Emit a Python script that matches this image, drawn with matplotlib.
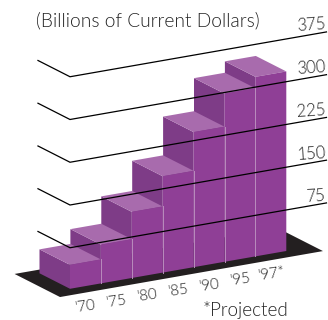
import matplotlib
matplotlib.use("Agg")
import matplotlib.pyplot as plt
from matplotlib.patches import Polygon

plt.rcParams["font.family"] = ["Lato", "DejaVu Sans"]

years = ["'70", "'75", "'80", "'85", "'90", "'95", "'97*"]
spending = [45, 71, 119, 172, 240, 298, 318]
grid_levels = [75, 150, 225, 300, 375]

# oblique projection, in pixels of the 328x320 canvas
ORIGIN = (70.0, 290.5)
COL_VEC = (30.9, -5.4)
DEPTH_VEC = (-30.5, -15.5)
PX_PER_UNIT = 0.57
FLOOR = 3

FRONT = "#8f3f96"
TOP = "#a86bad"
SIDE = "#7e3c87"
EDGE = "#b98cbd"
TEXT = "#222222"


def project(col, depth, value):
    x = ORIGIN[0] + col * COL_VEC[0] + depth * DEPTH_VEC[0]
    y = ORIGIN[1] + col * COL_VEC[1] + depth * DEPTH_VEC[1] - value * PX_PER_UNIT
    return x, y


fig = plt.figure(figsize=(3.28, 3.20), dpi=100)
ax = fig.add_axes([0, 0, 1, 1])
ax.set_xlim(0, 328)
ax.set_ylim(320, 0)
ax.axis("off")

# black floor under the columns
n = len(years)
floor = [
    project(-0.55, -0.23, 0),
    project(7.96, -0.23, 0),
    project(7.96, 1.26, 0),
    project(-0.55, 1.26, 0),
]
ax.add_patch(Polygon(floor, closed=True, facecolor="#231f20", edgecolor="none", zorder=1))

# painted right to left so a lower top covers the foot of the next column's side
for i in range(n - 1, -1, -1):
    value = spending[i]
    front = [
        project(i, 0, FLOOR),
        project(i + 1, 0, FLOOR),
        project(i + 1, 0, value),
        project(i, 0, value),
    ]
    side = [
        project(i, 0, FLOOR),
        project(i, 0, value),
        project(i, 1, value),
        project(i, 1, FLOOR),
    ]
    top = [
        project(i, 0, value),
        project(i + 1, 0, value),
        project(i + 1, 1, value),
        project(i, 1, value),
    ]
    z = 2 + (n - i)
    ax.add_patch(Polygon(side, closed=True, facecolor=SIDE, edgecolor="none", zorder=z))
    ax.add_patch(Polygon(top, closed=True, facecolor=TOP, edgecolor="none", zorder=z))
    ax.add_patch(Polygon(front, closed=True, facecolor=FRONT, edgecolor="none", zorder=z))
    # pale seam at the right of each column
    if i < n - 1:
        ax.plot(*zip(project(i + 1, 0, FLOOR), project(i + 1, 0, value)),
                color=EDGE, lw=0.7, zorder=31)

for level in grid_levels:
    pts = [project(0, 1.05, level), project(0, 0, level), project(8.3, 0, level)]
    ax.plot(*zip(*pts), color="black", lw=0.9, zorder=40, solid_joinstyle="miter")
    end = project(8.3, 0, level)
    ax.text(end[0], end[1] - 6.5, str(level), ha="right", va="center",
            fontsize=12, fontweight=300, color=TEXT, rotation=4, zorder=41)

for i, label in enumerate(years):
    x, y = project(i + 0.5, 0, 0)
    ax.text(x + 0.5, y + 19, label, ha="center", va="center", fontsize=11,
            fontweight=300, color=TEXT, rotation=8, zorder=41)

ax.text(36, 21, "(Billions of Current Dollars)", ha="left", va="center",
        fontsize=13.8, fontweight=300, color=TEXT)
ax.text(203, 310, "*Projected", ha="left", va="center",
        fontsize=13.6, fontweight=300, color=TEXT)

fig.savefig("out.png", dpi=100)
plt.close(fig)
